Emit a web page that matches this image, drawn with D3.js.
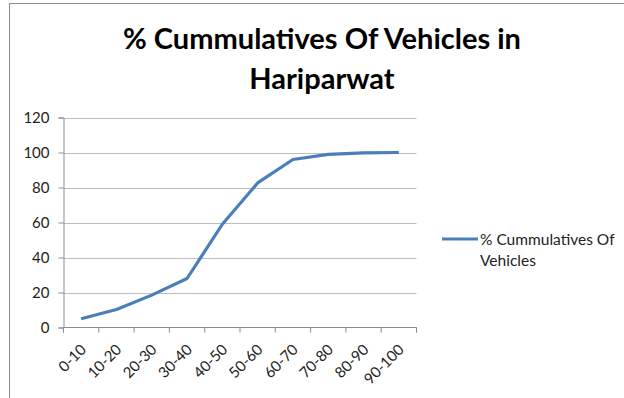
<!DOCTYPE html>
<html><head><meta charset="utf-8">
<script src="https://cdn.jsdelivr.net/npm/d3@7"></script>
<style>body{margin:0;background:#fff}svg{display:block}</style>
</head><body>
<svg id="c" width="624" height="398"></svg>
<script>
const categories = ["0-10","10-20","20-30","30-40","40-50","50-60","60-70","70-80","80-90","90-100"];
const values = [5, 10.3, 18.5, 28, 59, 82.6, 96, 98.9, 99.8, 100];
const yTicks = [0, 20, 40, 60, 80, 100, 120];
const seriesName = "% Cummulatives Of Vehicles";
const titleLines = ["% Cummulatives Of Vehicles in", "Hariparwat"];

(function () {
const svg = d3.select("#c");
const font = "Lato, 'Open Sans', sans-serif";

svg.append("rect").attr("x", 9.5).attr("y", 3.5).attr("width", 700).attr("height", 500)
  .attr("fill", "#fff").attr("stroke", "#8c8c8c").attr("stroke-width", 1);

const pL = 63.5, pR = 416.5, pT = 117.5, pB = 327.5;
const x = d3.scaleBand().domain(categories).range([pL, pR]);
const y = d3.scaleLinear().domain([0, 120]).range([pB, pT]);

// gridlines
svg.append("g").selectAll("line").data(yTicks.filter(d => d > 0)).join("line")
  .attr("x1", pL).attr("x2", pR)
  .attr("y1", d => Math.round(y(d)) + 0.5).attr("y2", d => Math.round(y(d)) + 0.5)
  .attr("stroke", "#bdbdbd").attr("stroke-width", 1);

// y axis
const yAxis = svg.append("g").attr("transform", `translate(${pL},0)`)
  .call(d3.axisLeft(y).tickValues(yTicks).tickSize(5).tickPadding(9));
yAxis.select(".domain").attr("stroke", "#8c8c8c");
yAxis.selectAll(".tick line").attr("stroke", "#8c8c8c");
yAxis.selectAll("text").attr("font-family", font).attr("font-size", 15).attr("fill", "#222");

// x axis
const xAxis = svg.append("g").attr("transform", `translate(0,${pB})`)
  .call(d3.axisBottom(x).tickSize(5).tickFormat(""));
xAxis.select(".domain").attr("stroke", "#8c8c8c").attr("d", `M${pL},5V0H${pR}V5`);
xAxis.selectAll(".tick").remove();
const bounds = categories.map(c => x(c)).concat([pR]);
xAxis.selectAll("line.t").data(bounds).join("line").attr("class", "t")
  .attr("x1", d => d).attr("x2", d => d).attr("y1", 0).attr("y2", 5).attr("stroke", "#8c8c8c");

svg.append("g").selectAll("text").data(categories).join("text")
  .attr("font-family", font).attr("font-size", 15).attr("fill", "#222")
  .attr("text-anchor", "end")
  .attr("transform", d => `translate(${x(d) + x.bandwidth() / 2 + 6},${pB + 23}) rotate(-45)`)
  .text(d => d);

// line
const line = d3.line().x((d, i) => x(categories[i]) + x.bandwidth() / 2).y(d => y(d));
svg.append("path").datum(values).attr("d", line)
  .attr("fill", "none").attr("stroke", "#4a7ebb").attr("stroke-width", 3.2)
  .attr("stroke-linejoin", "round").attr("stroke-linecap", "butt");

// title
svg.append("g").selectAll("text").data(titleLines).join("text")
  .attr("x", 322).attr("y", (d, i) => 48.5 + i * 40.5)
  .attr("text-anchor", "middle").attr("font-family", font).attr("font-weight", "bold")
  .attr("font-size", 29).attr("fill", "#000").text(d => d);

// legend
svg.append("line").attr("x1", 442).attr("x2", 478).attr("y1", 239).attr("y2", 239)
  .attr("stroke", "#4a7ebb").attr("stroke-width", 3.2);
const words = seriesName.split(" ");
const lg = svg.append("text").attr("font-family", font).attr("font-size", 15.5).attr("fill", "#222");
lg.append("tspan").attr("x", 480).attr("y", 245).text(words.slice(0, 3).join(" "));
lg.append("tspan").attr("x", 480).attr("y", 266).text(words.slice(3).join(" "));
})();
</script>
</body></html>
